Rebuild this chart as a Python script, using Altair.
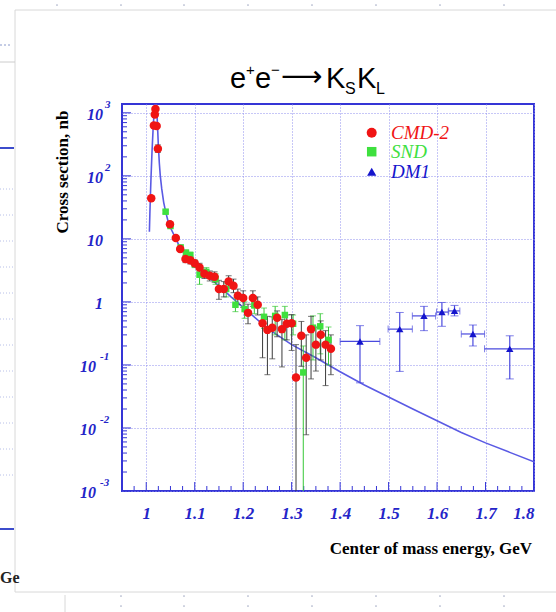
import altair as alt
import pandas as pd
import numpy as np

# ---------------- data ----------------
curve_E = [1.0065, 1.0075, 1.009, 1.010, 1.012, 1.014, 1.016, 1.018, 1.0195, 1.021,
           1.023, 1.025, 1.027, 1.029, 1.032, 1.036, 1.040, 1.045, 1.050, 1.060,
           1.070, 1.080, 1.100, 1.125, 1.150, 1.175, 1.200, 1.250, 1.300, 1.350,
           1.400, 1.450, 1.500, 1.550, 1.600, 1.650, 1.700, 1.750, 1.800]
curve_sigma = [13, 25, 60, 100, 250, 520, 950, 1350, 1600, 1350,
               700, 300, 160, 100, 62, 38, 27, 19, 15, 10.5,
               7.2, 5.6, 3.9, 2.6, 1.8, 1.2, 0.82, 0.38, 0.21, 0.13,
               0.078, 0.048, 0.031, 0.020, 0.013, 0.0085, 0.0058, 0.0041, 0.0029]

cmd_E = [1.0103, 1.0158, 1.0177, 1.0190, 1.0215, 1.0240, 1.049, 1.061, 1.070, 1.081,
         1.091, 1.100, 1.110, 1.120, 1.131, 1.141, 1.150, 1.160, 1.170, 1.180,
         1.189, 1.200, 1.210, 1.220, 1.230, 1.240, 1.250, 1.260, 1.270, 1.280,
         1.290, 1.300, 1.309, 1.320, 1.330, 1.340, 1.350, 1.360, 1.370, 1.381]
cmd_sigma = [44, 630, 940, 1150, 620, 270, 17, 10.3, 6.9, 4.8,
             4.6, 4.1, 3.5, 2.8, 2.6, 2.5, 1.6, 1.6, 2.1, 1.8,
             1.25, 1.15, 0.67, 1.15, 0.9, 0.46, 0.36, 0.39, 0.56, 0.37,
             0.45, 0.46, 0.063, 0.29, 0.13, 0.37, 0.21, 0.30, 0.21, 0.18]
cmd_lo = [41, 600, 900, 1100, 590, 235, 16, 9.6, 6.3, 4.2,
          4.0, 3.6, 3.0, 2.35, 2.15, 2.05, 1.1, 1.2, 1.65, 1.4,
          0.9, 0.82, 0.45, 0.85, 0.62, 0.13, 0.07, 0.125, 0.28, 0.093,
          0.25, 0.17, 0.00001, 0.095, 0.0078, 0.06, 0.08, 0.12, 0.047, 0.07]
cmd_hi = [47, 660, 980, 1200, 650, 310, 18.5, 11.1, 7.5, 5.4,
          5.3, 4.6, 4.1, 3.3, 3.1, 3.0, 2.2, 2.1, 2.6, 2.3,
          1.6, 1.5, 0.92, 1.5, 1.2, 0.63, 0.59, 0.58, 0.72, 0.53,
          0.62, 0.63, 0.21, 0.49, 0.30, 0.59, 0.40, 0.50, 0.35, 0.30]

snd_E = [1.040, 1.050, 1.071, 1.082, 1.091, 1.100, 1.110, 1.124, 1.143, 1.165,
         1.184, 1.203, 1.223, 1.243, 1.266, 1.286, 1.303, 1.324, 1.344, 1.359, 1.376]
snd_sigma = [27, 16, 7.3, 6.0, 5.5, 4.0, 2.7, 3.0, 2.3, 1.6,
             0.9, 0.77, 0.88, 0.58, 0.60, 0.62, 0.45, 0.076, 0.39, 0.41, 0.25]
snd_lo = [25.5, 15, 6.7, 5.3, 4.8, 3.5, 1.9, 2.5, 1.9, 1.2,
          0.7, 0.55, 0.65, 0.38, 0.30, 0.25, 0.30, 0.00001, 0.12, 0.15, 0.10]
snd_hi = [28.5, 17, 8.0, 6.7, 6.2, 4.6, 3.2, 3.5, 2.8, 2.0,
          1.15, 1.0, 1.15, 0.8, 0.85, 0.85, 0.62, 0.20, 0.60, 0.65, 0.40]

dm_E = [1.441, 1.523, 1.573, 1.610, 1.636, 1.674, 1.750]
dm_Elo = [1.400, 1.499, 1.549, 1.599, 1.624, 1.650, 1.698]
dm_Ehi = [1.482, 1.549, 1.597, 1.623, 1.647, 1.698, 1.800]
dm_sigma = [0.236, 0.37, 0.60, 0.69, 0.72, 0.31, 0.18]
dm_lo = [0.052, 0.079, 0.35, 0.41, 0.60, 0.20, 0.060]
dm_hi = [0.42, 0.68, 0.85, 0.98, 0.88, 0.43, 0.29]

x_tick_values = [1.0, 1.1, 1.2, 1.3, 1.4, 1.5, 1.6, 1.7, 1.8]
y_tick_values = [1000, 100, 10, 1, 0.1, 0.01, 0.001]
y_tick_base = ["10", "10", "10", "1", "10", "10", "10"]
y_tick_exp = ["3", "2", "", "", "-1", "-2", "-3"]
y_tick_kind = ["pos", "pos", "plain", "plain", "neg", "neg", "neg"]

legend_names = ["CMD-2", "SND", "DM1"]

# ---------------- styling ----------------
W, H = 412, 387
FRAME = "#3535d6"
GRID = "#8f8fee"
LBL = "#2424c8"
RED = "#f01414"
GREEN = "#3ee03e"
DMBLUE = "#1414cc"
CURVE = "#5a5ae4"
SERIF = "Liberation Serif"

xs = alt.Scale(domain=[0.95, 1.8], nice=False, zero=False)
ys = alt.Scale(type="log", domain=[0.001, 1380], nice=False)

x_axis = alt.Axis(values=x_tick_values,
                  labelExpr="datum.value == 1 ? '1' : format(datum.value, '.1f')",
                  grid=True, gridDash=[1, 2], gridColor=GRID, gridWidth=1,
                  domain=False, ticks=False, title=None,
                  labelFont=SERIF, labelFontSize=17, labelFontStyle="italic",
                  labelFontWeight="bold", labelColor=LBL, labelPadding=14,
                  labelOverlap=False)
y_axis = alt.Axis(values=y_tick_values, grid=True, gridDash=[1, 2], gridColor=GRID,
                  gridWidth=1, labels=False, ticks=False, domain=False, title=None)


def X(f):
    return alt.X(f, scale=xs, axis=x_axis)


def Y(f):
    return alt.Y(f, scale=ys, axis=y_axis)


curve_df = pd.DataFrame({"E": curve_E, "s": curve_sigma})
cmd_df = pd.DataFrame({"E": cmd_E, "s": cmd_sigma, "lo": cmd_lo, "hi": cmd_hi})
snd_df = pd.DataFrame({"E": snd_E, "s": snd_sigma, "lo": snd_lo, "hi": snd_hi})
dm_df = pd.DataFrame({"E": dm_E, "Elo": dm_Elo, "Ehi": dm_Ehi, "s": dm_sigma,
                      "lo": dm_lo, "hi": dm_hi})

layers = []

# curve
layers.append(alt.Chart(curve_df).mark_line(color=CURVE, strokeWidth=1.6, clip=True).encode(
    x=X("E:Q"), y=Y("s:Q")))

# inward ticks
ymaj = pd.DataFrame({"v": y_tick_values})
ymin = pd.DataFrame({"v": [m * 10.0 ** k for k in range(-3, 3) for m in range(2, 10)]})
xmaj = pd.DataFrame({"v": x_tick_values})
xmin_vals = [round(v, 3) for v in np.arange(0.95, 1.8001, 0.025) if abs(v * 10 - round(v * 10)) > 1e-6]
xmin = pd.DataFrame({"v": xmin_vals})
layers.append(alt.Chart(ymaj).mark_rule(color=FRAME, strokeWidth=1).encode(
    y=Y("v:Q"), x=alt.value(0), x2=alt.value(9)))
layers.append(alt.Chart(ymin).mark_rule(color=FRAME, strokeWidth=1).encode(
    y=Y("v:Q"), x=alt.value(0), x2=alt.value(5)))
layers.append(alt.Chart(xmaj).mark_rule(color=FRAME, strokeWidth=1).encode(
    x=X("v:Q"), y=alt.value(H), y2=alt.value(H - 9)))
layers.append(alt.Chart(xmin).mark_rule(color=FRAME, strokeWidth=1).encode(
    x=X("v:Q"), y=alt.value(H), y2=alt.value(H - 5)))

# error bars
for df, col in [(snd_df, "#36c836"), (cmd_df, "#3a3a3a")]:
    layers.append(alt.Chart(df).mark_rule(color=col, strokeWidth=1, clip=True).encode(
        x=X("E:Q"), y=Y("lo:Q"), y2="hi:Q"))
    for f in ["lo", "hi"]:
        layers.append(alt.Chart(df).mark_tick(color=col, orient="horizontal", size=6,
                                              thickness=1, clip=True).encode(
            x=X("E:Q"), y=Y(f + ":Q")))

# DM1 error bars
DMERR = "#4a4ade"
layers.append(alt.Chart(dm_df).mark_rule(color=DMERR, strokeWidth=1.2, clip=True).encode(
    x=X("Elo:Q"), x2="Ehi:Q", y=Y("s:Q")))
layers.append(alt.Chart(dm_df).mark_rule(color=DMERR, strokeWidth=1.2, clip=True).encode(
    x=X("E:Q"), y=Y("lo:Q"), y2="hi:Q"))
for f in ["lo", "hi"]:
    layers.append(alt.Chart(dm_df).mark_tick(color=DMERR, orient="horizontal", size=8,
                                             thickness=1, clip=True).encode(
        x=X("E:Q"), y=Y(f + ":Q")))
for f in ["Elo", "Ehi"]:
    layers.append(alt.Chart(dm_df).mark_tick(color=DMERR, orient="vertical", size=7,
                                             thickness=1, clip=True).encode(
        x=X(f + ":Q"), y=Y("s:Q")))

# points
layers.append(alt.Chart(snd_df).mark_point(shape="square", filled=True, size=42, color=GREEN,
                                           opacity=1, clip=True).encode(x=X("E:Q"), y=Y("s:Q")))
layers.append(alt.Chart(cmd_df).mark_point(shape="circle", filled=True, size=72, color=RED,
                                           opacity=1, clip=True).encode(x=X("E:Q"), y=Y("s:Q")))
layers.append(alt.Chart(dm_df).mark_point(shape="triangle-up", filled=True, size=55, color=DMBLUE,
                                          opacity=1, clip=True).encode(x=X("E:Q"), y=Y("s:Q")))

# y tick labels (10 with raised exponent)
ylab = pd.DataFrame({"v": y_tick_values, "b": y_tick_base, "e": y_tick_exp, "k": y_tick_kind})
lab_style = dict(font=SERIF, fontStyle="italic", fontWeight="bold", color=LBL)
for kind, bx, ex in [("pos", -19, -17), ("plain", -19, None), ("neg", -26, -22)]:
    layers.append(alt.Chart(ylab).transform_filter(alt.datum.k == kind).mark_text(
        align="right", baseline="middle", fontSize=16, dy=2, **lab_style).encode(
        y=Y("v:Q"), x=alt.value(bx), text="b:N"))
    if ex is not None:
        layers.append(alt.Chart(ylab).transform_filter(alt.datum.k == kind).mark_text(
            align="left", baseline="middle", fontSize=11, dy=-8, **lab_style).encode(
            y=Y("v:Q"), x=alt.value(ex), text="e:N"))

# legend
leg_cols = [RED, GREEN, DMBLUE]
leg_shapes = ["circle", "square", "triangle-up"]
leg_sizes = [100, 90, 85]
leg_y = [28.7, 47.7, 67.7]
for name, c, sh, sz, yy in zip(legend_names, leg_cols, leg_shapes, leg_sizes, leg_y):
    d = pd.DataFrame({"t": [name]})
    layers.append(alt.Chart(d).mark_point(shape=sh, filled=True, size=sz, color=c, opacity=1).encode(
        x=alt.value(249.7), y=alt.value(yy)))
    layers.append(alt.Chart(d).mark_text(align="left", baseline="middle", font=SERIF,
                                         fontStyle="italic", fontSize=19, color=c).encode(
        x=alt.value(269), y=alt.value(yy), text="t:N"))

# axis titles
layers.append(alt.Chart(pd.DataFrame({"t": ["Cross section, nb"]})).mark_text(
    angle=270, align="center", baseline="middle", font=SERIF, fontWeight="bold",
    fontSize=17, color="black").encode(x=alt.value(-59), y=alt.value(68), text="t:N"))
layers.append(alt.Chart(pd.DataFrame({"t": ["Center of mass energy, GeV"]})).mark_text(
    align="right", baseline="middle", font=SERIF, fontWeight="bold",
    fontSize=17, color="black").encode(x=alt.value(410), y=alt.value(445), text="t:N"))

# title e+e- -> KS KL built from pieces
title_pieces = [("e", 108, -16, 29, "Liberation Sans"),
                ("+", 124, -29, 15, "Liberation Sans"),
                ("e", 133, -16, 29, "Liberation Sans"),
                ("\u2212", 149, -29, 15, "Liberation Sans"),
                ("\u27f6", 159, -18, 29, "DejaVu Sans"),
                ("K", 204, -16, 29, "Liberation Sans"),
                ("S", 223, -10, 16, "Liberation Sans"),
                ("K", 235, -16, 29, "Liberation Sans"),
                ("L", 254, -10, 16, "Liberation Sans")]
for t, px, py, fs, fnt in title_pieces:
    layers.append(alt.Chart(pd.DataFrame({"t": [t]})).mark_text(
        align="left", baseline="alphabetic", font=fnt, fontSize=fs, color="black").encode(
        x=alt.value(px), y=alt.value(py), text="t:N"))

# slide decorations around the card (relative to plot origin 122,104)
segs = [(-107, -94, 434, -94, "#d8d8d8", 1, None),
        (-107, -94, -107, 488, "#d8d8d8", 1, None),
        (-107, 488, 434, 488, "#d8d8d8", 1, None),
        (-122, -59, -110, -59, "#8a9acc", 1, [2, 2]),
        (-122, -42, -107, -42, "#cccccc", 1, None),
        (-122, 44, -108, 44, "#3c4ccc", 2, None),
        (-122, 425, -108, 425, "#3c4ccc", 2, None),
        (-57, 491, -57, 508, "#d8d8d8", 1, None)]
for x1, y1, x2, y2, c, w, dash in segs:
    kw = dict(color=c, strokeWidth=w)
    if dash:
        kw["strokeDash"] = dash
    layers.append(alt.Chart(pd.DataFrame({"a": [0]})).mark_rule(**kw).encode(
        x=alt.value(x1), x2=alt.value(x2), y=alt.value(y1), y2=alt.value(y2)))
for k in range(12):
    yy = 85 + k * 26
    layers.append(alt.Chart(pd.DataFrame({"a": [0]})).mark_rule(
        color="#b8c0e8", strokeWidth=1, strokeDash=[1, 2]).encode(
        x=alt.value(-122), x2=alt.value(-108), y=alt.value(yy), y2=alt.value(yy)))
layers.append(alt.Chart(pd.DataFrame({"t": ["Ge"]})).mark_text(
    align="left", baseline="middle", font=SERIF, fontWeight="bold", fontSize=16,
    color="#222222").encode(x=alt.value(-122), y=alt.value(474), text="t:N"))
for dx in [57, 121, 184, 248, 312, 376, 440, 504]:
    for dy in [5, 596, 606]:
        if dy > 500 and dx < 100:
            continue
        layers.append(alt.Chart(pd.DataFrame({"a": [0]})).mark_point(
            filled=True, size=3, color="#aab0c8", opacity=1).encode(
            x=alt.value(dx - 122), y=alt.value(dy - 104)))

chart = alt.layer(*layers).properties(
    width=W, height=H,
    autosize=alt.AutoSizeParams(type="none"),
    padding={"left": 122, "top": 104, "right": 22, "bottom": 121},
    background="white",
).configure_view(stroke=FRAME, strokeWidth=2)

chart.save("out.html", embed_options={"renderer": "svg", "actions": False})
